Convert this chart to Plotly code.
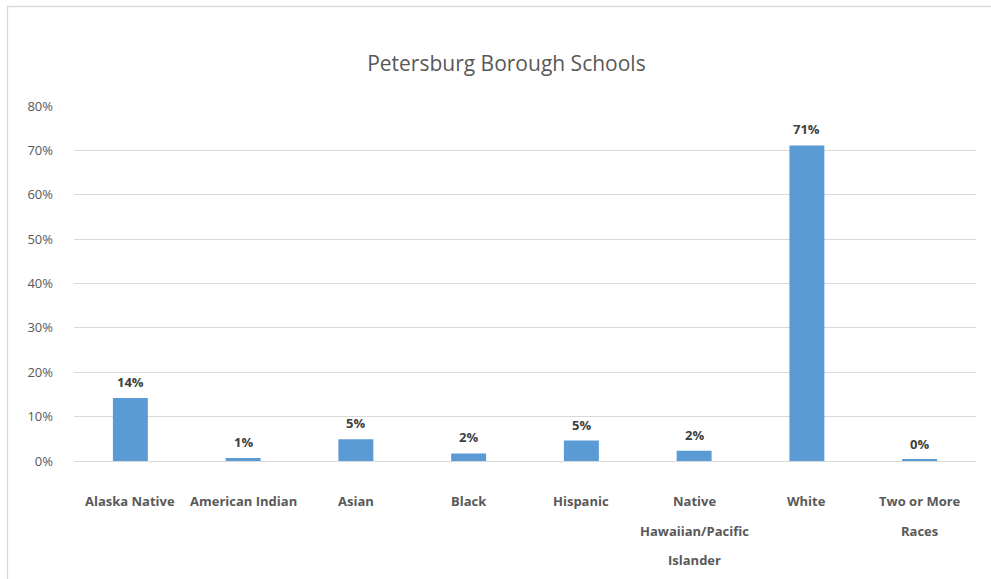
import plotly.graph_objects as go

categories = ["Alaska Native", "American Indian", "Asian", "Black", "Hispanic",
              "Native Hawaiian/Pacific Islander", "White", "Two or More Races"]
label_lines = [["Alaska Native"], ["American Indian"], ["Asian"], ["Black"], ["Hispanic"],
               ["Native", "Hawaiian/Pacific", "Islander"], ["White"], ["Two or More", "Races"]]
values = [14.2, 0.7, 4.9, 1.7, 4.6, 2.3, 71.1, 0.3]
tick_vals = [0, 10, 20, 30, 40, 50, 60, 70, 80]
tick_text = [f"{v}%" for v in tick_vals]

FONT = "Open Sans"
GREY = "#595959"

fig = go.Figure(go.Bar(
    x=categories, y=values,
    marker=dict(color="#5b9bd5", line=dict(width=0)),
    hoverinfo="skip",
))

annotations = []
for c, v in zip(categories, values):
    annotations.append(dict(
        x=c, y=v, xref="x", yref="y", text=f"<b>{round(v):d}%</b>",
        showarrow=False, yanchor="middle", yshift=16,
        font=dict(family=FONT, size=13, color="#404040")))
for c, lines in zip(categories, label_lines):
    for i, ln in enumerate(lines):
        annotations.append(dict(
            x=c, y=0, xref="x", yref="y", text=f"<b>{ln}</b>",
            showarrow=False, yanchor="middle", yshift=-40 - 29.5 * i,
            font=dict(family=FONT, size=13, color=GREY)))

fig.update_layout(
    width=991, height=579,
    margin=dict(l=74, r=15, t=106, b=118),
    paper_bgcolor="white", plot_bgcolor="white",
    title=dict(text="Petersburg Borough Schools", x=0.511, xref="container",
               xanchor="center", y=1 - 64 / 579, yref="container", yanchor="middle",
               font=dict(family=FONT, size=21, color=GREY)),
    bargap=0.69,
    showlegend=False,
    xaxis=dict(showticklabels=False, showgrid=False, showline=False, zeroline=False,
               ticks="", fixedrange=True),
    yaxis=dict(range=[0, 80], tickvals=tick_vals, ticktext=tick_text,
               showgrid=True, gridcolor="#d9d9d9", gridwidth=1.3,
               zeroline=True, zerolinecolor="#d9d9d9", zerolinewidth=1.3,
               showline=False, ticks="", ticklabelstandoff=20,
               tickfont=dict(family=FONT, size=13, color=GREY), fixedrange=True),
    annotations=annotations,
    shapes=[dict(type="rect", xref="paper", yref="paper",
                 x0=(7.5 - 74) / 902, x1=1.2, y0=-0.6, y1=(461 - 6.5) / 355,
                 line=dict(color="#d9d9d9", width=1.3), layer="below")],
)

fig.write_html("out.html", config={"displayModeBar": False},
               post_script="document.body.style.margin='0';document.body.style.overflow='hidden';")
